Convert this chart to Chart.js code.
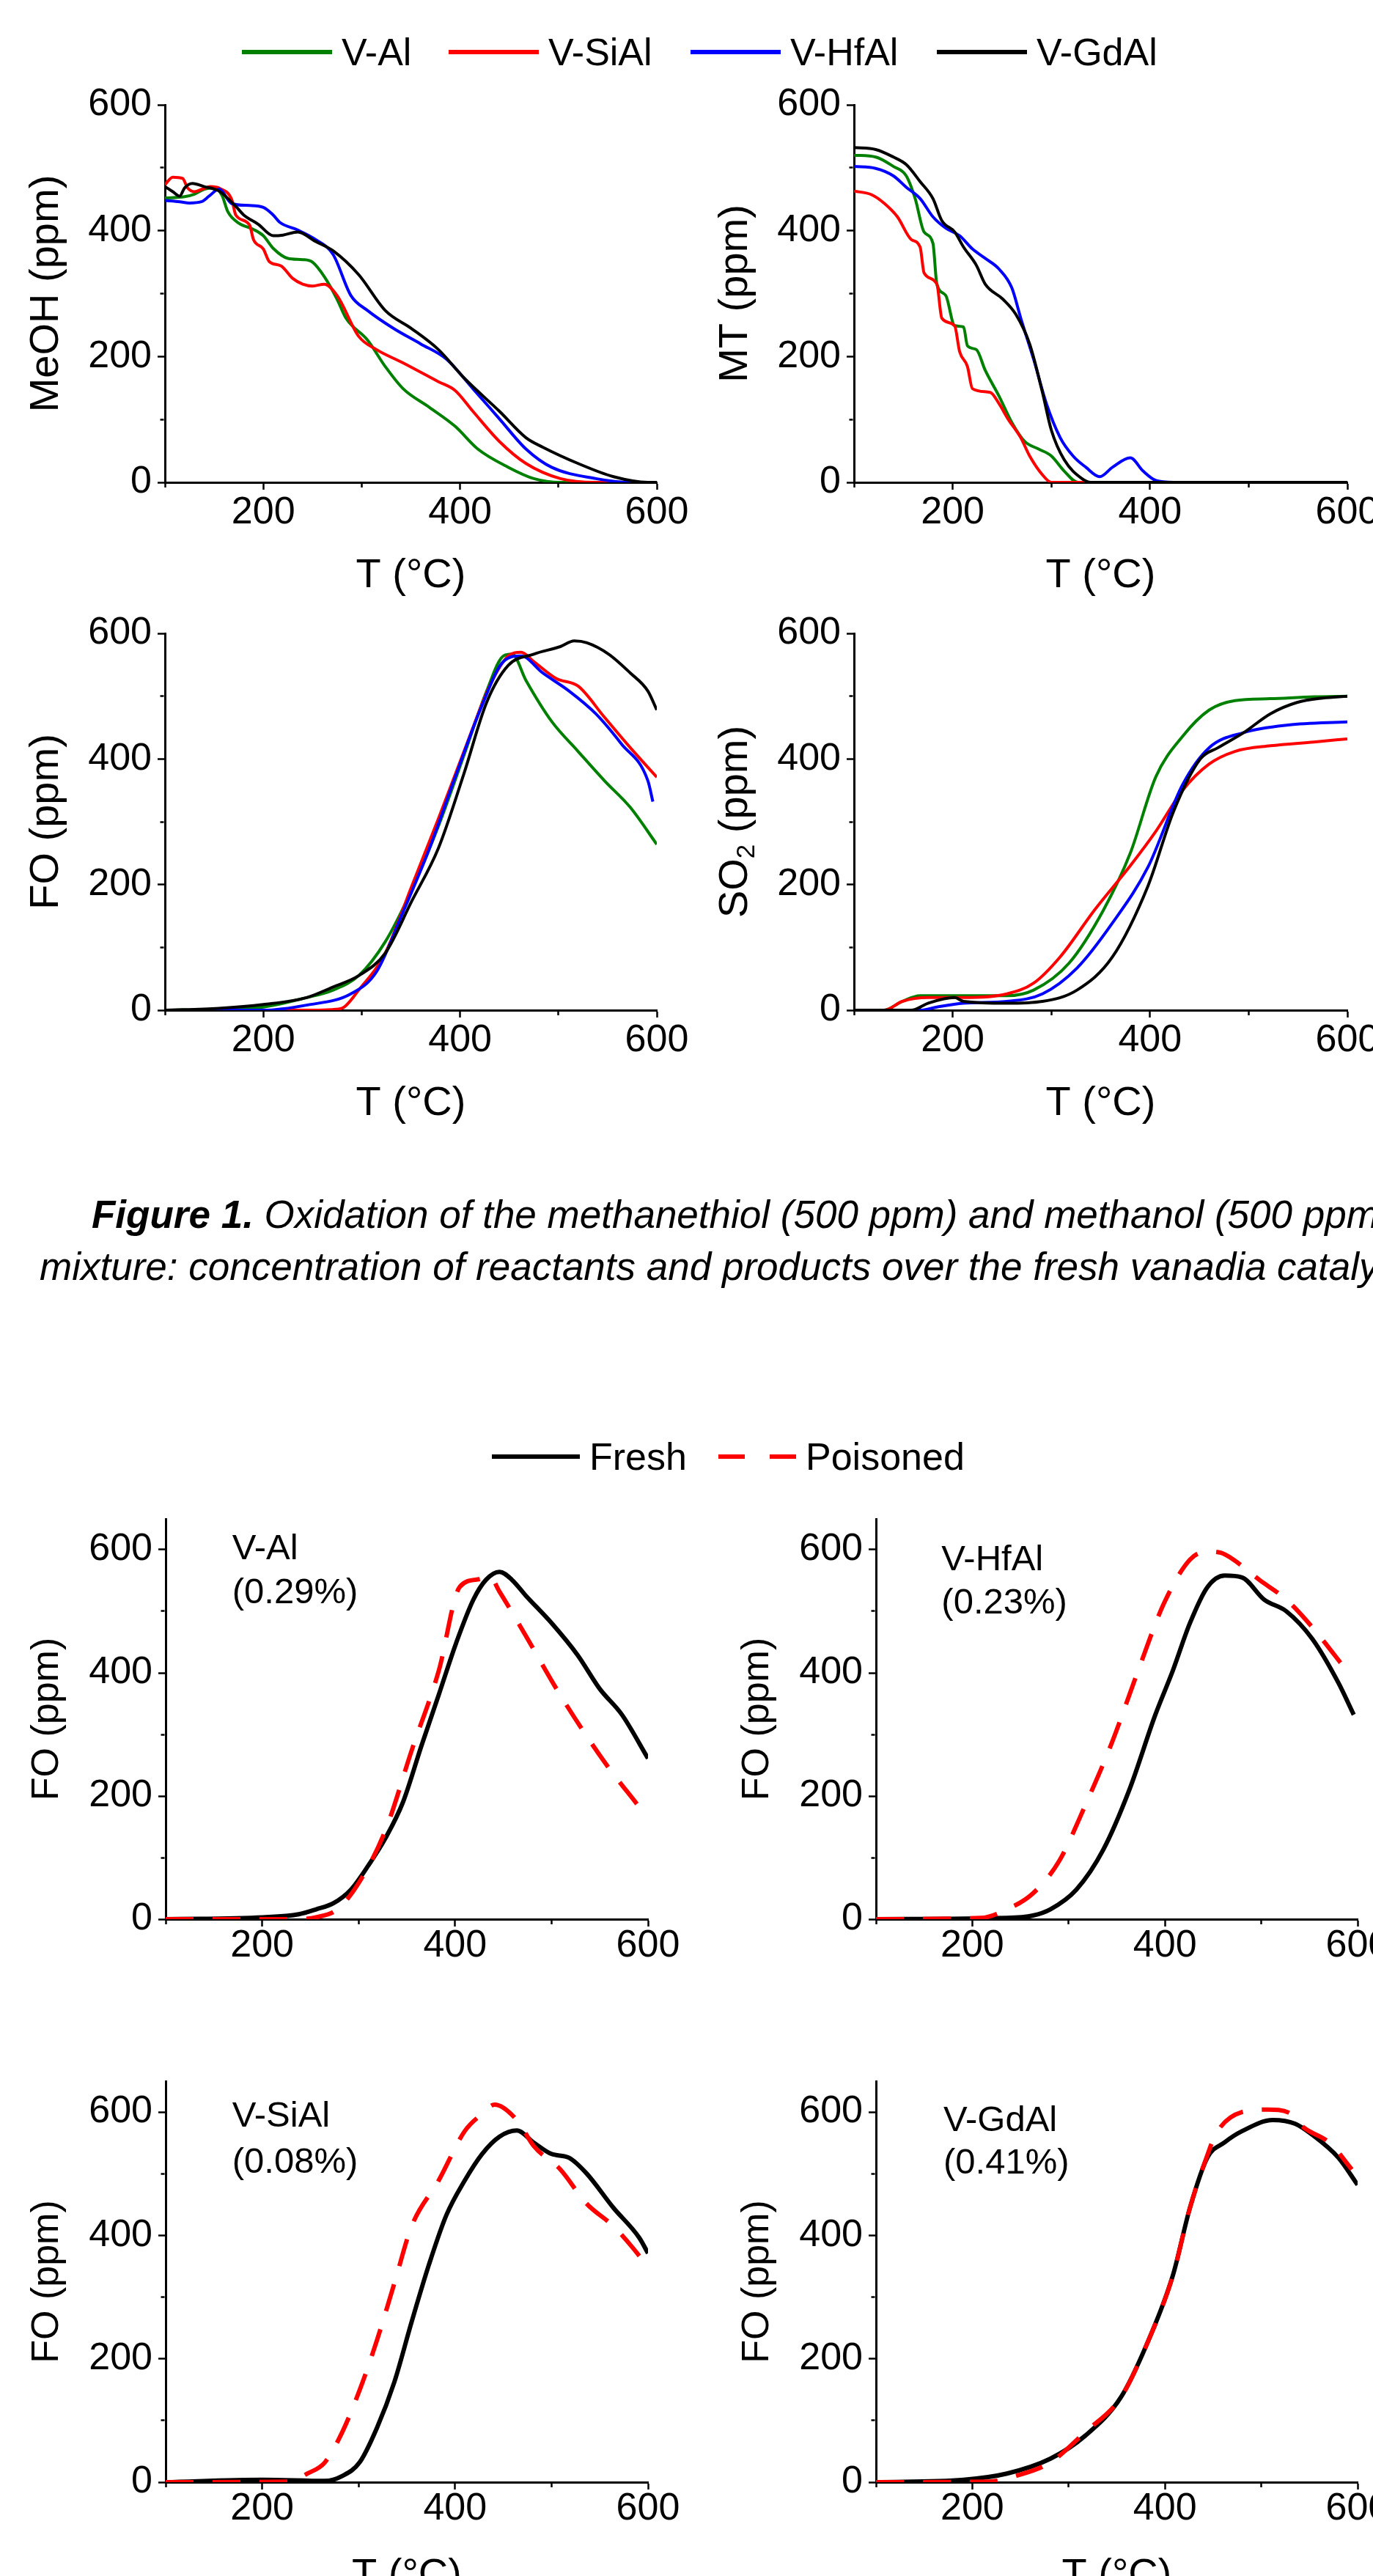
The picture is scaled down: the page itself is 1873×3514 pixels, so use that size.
<!DOCTYPE html>
<html lang="en">
<head>
<meta charset="UTF-8">
<title>Figure 1 – methanethiol / methanol oxidation</title>
<script src="https://cdn.jsdelivr.net/npm/chart.js"></script>
<style>
  html, body { margin: 0; padding: 0; overflow: hidden; background: #fff; }
  body {
    position: relative;
    width: 1873px;
    height: 3514px;
    font-family: 'Liberation Sans', Arial, sans-serif;
    color: #000;
  }
  .panel { position: absolute; }
  .leg-line { position: absolute; height: 6px; }
  .leg-text { position: absolute; font-size: 52px; line-height: 60px; white-space: nowrap; }
  .caption { position: absolute; font-size: 53px; line-height: 62px; font-style: italic; white-space: nowrap; }
</style>
</head>
<body>
<script>
  // ---- data: [T (°C), ppm] ----
  const catalysts = ['V-Al', 'V-SiAl', 'V-HfAl', 'V-GdAl'];
  const catColors = ['#008000', '#ff0000', '#0000ff', '#000000'];
  const xTickLabels = [200, 400, 600];
  const yTickLabels = [0, 200, 400, 600];

  // MeOH
  const meohAl = [[100,452],[120,454],[130,458],[140,466],[150,468],[158,456],[164,430],[175,412],[190,402],[200,392],[210,372],[225,356],[240,354],[250,350],[262,327],[275,291],[284,261],[306,226],[324,184],[342,149],[369,119],[395,89],[418,53],[449,24],[475,6],[502,0],[600,0]];
  const meohSiAl = [[100,473],[108,485],[118,483],[123,468],[130,462],[138,466],[146,470],[156,467],[168,449],[172,425],[186,409],[190,386],[200,371],[206,351],[218,344],[230,324],[240,315],[250,312],[262,315],[275,297],[297,232],[315,211],[342,190],[378,160],[395,146],[413,113],[440,65],[467,30],[502,6],[538,0],[600,0]];
  const meohHfAl = [[100,448],[115,446],[125,444],[137,446],[145,455],[155,466],[168,443],[186,440],[200,437],[210,425],[217,413],[235,401],[253,386],[271,362],[289,297],[306,273],[333,244],[360,220],[386,196],[413,149],[440,101],[467,53],[493,24],[538,6],[573,0],[600,0]];
  const meohGdAl = [[100,470],[108,462],[115,455],[120,468],[128,475],[140,470],[155,463],[173,437],[180,425],[195,410],[210,392],[220,393],[235,398],[253,383],[271,368],[297,330],[324,273],[351,244],[378,211],[404,166],[440,113],[467,71],[484,56],[520,30],[556,9],[591,0],[600,0]];

  // MT
  const mtAl = [[100,520],[122,517],[140,502],[153,487],[162,451],[171,398],[180,380],[184,315],[193,297],[202,249],[211,247],[215,217],[224,211],[233,178],[247,137],[260,95],[273,65],[287,53],[300,42],[313,18],[327,0],[600,0]];
  const mtSiAl = [[100,463],[118,457],[131,443],[144,422],[158,386],[167,374],[171,333],[184,315],[189,261],[202,249],[207,208],[215,184],[220,149],[238,143],[247,125],[256,101],[269,71],[278,42],[291,12],[300,0],[600,0]];
  const mtHfAl = [[100,502],[122,499],[140,487],[153,469],[167,451],[180,422],[193,404],[207,392],[220,371],[233,356],[247,339],[260,309],[269,261],[282,196],[295,125],[309,71],[322,42],[335,24],[349,9],[362,24],[380,39],[393,18],[406,3],[424,0],[600,0]];
  const mtGdAl = [[100,532],[122,529],[140,517],[153,505],[167,478],[180,451],[189,416],[202,398],[211,374],[224,345],[233,315],[251,291],[264,267],[278,220],[291,143],[300,83],[313,36],[331,6],[340,0],[600,0]];

  // FO (fresh catalysts)
  const foAl = [[100,0],[150,1],[200,5],[244,20],[271,32],[297,55],[324,109],[351,192],[378,293],[404,406],[427,508],[444,564],[453,567],[467,525],[493,460],[520,412],[547,365],[573,323],[600,264]];
  const foSiAl = [[100,0],[244,0],[270,1],[280,3],[297,32],[324,91],[351,198],[378,305],[404,412],[431,519],[449,564],[462,570],[475,555],[498,528],[520,516],[547,466],[573,418],[600,371]];
  const foHfAl = [[100,0],[200,0],[244,8],[289,26],[315,61],[342,156],[369,258],[395,371],[422,484],[444,555],[462,564],[484,537],[511,508],[538,472],[564,424],[591,365],[596,332]];
  const foGdAl = [[100,0],[155,3],[200,9],[244,20],[271,37],[297,55],[324,91],[351,174],[378,258],[404,377],[427,490],[449,549],[475,567],[502,579],[516,588],[529,585],[551,567],[573,537],[591,508],[600,478]];

  // SO2
  const so2Al = [[100,0],[130,0],[149,14],[167,23],[211,23],[255,23],[282,32],[318,75],[353,160],[380,250],[406,372],[433,436],[460,478],[486,493],[522,496],[566,499],[600,500]];
  const so2SiAl = [[100,0],[131,0],[149,14],[175,20],[211,20],[255,26],[282,43],[309,85],[344,160],[380,230],[406,285],[433,350],[460,392],[486,412],[522,421],[566,427],[600,432]];
  const so2HfAl = [[100,0],[167,0],[184,5],[211,11],[255,14],[291,26],[326,67],[362,139],[398,228],[433,359],[460,418],[495,442],[540,454],[600,459]];
  const so2GdAl = [[100,0],[158,0],[175,11],[202,20],[211,14],[255,11],[291,14],[326,32],[362,85],[398,198],[424,317],[451,400],[469,418],[495,442],[522,472],[549,490],[575,497],[600,500]];

  // FO fresh vs poisoned
  const freshAl = [[100,0],[201,3],[238,8],[256,16],[274,26],[292,48],[310,87],[328,132],[346,190],[365,281],[383,364],[401,448],[419,519],[432,551],[446,564],[459,551],[473,526],[500,481],[527,429],[550,374],[573,332],[600,261]];
  const poisAl = [[100,0],[238,0],[256,3],[278,16],[301,61],[328,145],[355,274],[383,403],[405,540],[425,552],[436,556],[446,532],[473,461],[509,364],[555,255],[590,184]];
  const freshHfAl = [[100,0],[236,2],[263,6],[281,16],[308,48],[336,113],[363,210],[390,332],[408,403],[426,481],[444,539],[462,558],[480,555],[503,519],[526,500],[553,455],[580,384],[596,332]];
  const poisHfAl = [[100,0],[209,2],[236,16],[263,42],[290,94],[317,184],[345,287],[372,403],[399,513],[426,584],[444,597],[458,595],[471,584],[498,551],[526,519],[553,474],[589,403]];
  const freshSiAl = [[100,0],[201,4],[265,2],[283,10],[301,32],[319,88],[337,162],[355,260],[373,353],[391,433],[410,489],[428,532],[446,560],[464,570],[482,550],[500,532],[518,526],[536,501],[564,445],[591,396],[600,371]];
  const poisSiAl = [[100,0],[229,1],[247,14],[265,32],[283,81],[301,149],[319,230],[337,322],[355,415],[383,489],[410,569],[428,597],[441,612],[464,587],[482,544],[509,507],[536,452],[564,415],[582,384],[595,359]];
  const freshGdAl = [[100,0],[191,4],[236,14],[281,38],[317,75],[354,137],[381,223],[408,334],[426,445],[444,526],[462,551],[480,569],[512,587],[535,581],[553,563],[580,526],[600,482]];
  const poisGdAl = [[100,0],[218,1],[245,10],[281,32],[317,81],[354,137],[381,223],[408,334],[426,445],[444,530],[453,565],[480,600],[507,604],[530,598],[544,575],[571,550],[594,507]];

  const poisonLoss = ['(0.29%)', '(0.23%)', '(0.08%)', '(0.41%)'];
  const compareLabels = ['Fresh', 'Poisoned'];

  // ---- drawing ----
  const FONT = "'Liberation Sans', Arial, sans-serif";
  Chart.defaults.font.family = FONT;
  Chart.defaults.color = '#000';

  // axis titles and in-plot notes
  const axisTitles = {
    id: 'axisTitles',
    afterDraw(chart, args, o) {
      const { ctx, chartArea: a } = chart;
      ctx.save();
      ctx.fillStyle = '#000';
      // y title, rotated, parts allow a subscript
      ctx.save();
      ctx.translate(a.left - 161, (a.top + a.bottom) / 2);
      ctx.rotate(-Math.PI / 2);
      ctx.textBaseline = 'middle';
      ctx.textAlign = 'left';
      const big = `${o.ySize}px ${FONT}`, small = `${Math.round(o.ySize * 0.62)}px ${FONT}`;
      let total = 0;
      o.yParts.forEach(pt => { ctx.font = pt[1] ? small : big; total += ctx.measureText(pt[0]).width; });
      let x = -total / 2;
      o.yParts.forEach(pt => {
        ctx.font = pt[1] ? small : big;
        ctx.fillText(pt[0], x, pt[1] ? o.ySize * 0.28 : 0);
        x += ctx.measureText(pt[0]).width;
      });
      ctx.restore();
      // x title
      if (o.xTitle) {
        ctx.font = `56px ${FONT}`;
        ctx.textAlign = 'center';
        ctx.textBaseline = 'middle';
        ctx.fillText(o.xTitle, (a.left + a.right) / 2, a.bottom + 128);
      }
      // notes anchored in data space
      if (o.notes) {
        const xs = chart.scales.x, ys = chart.scales.y;
        ctx.font = `49px ${FONT}`;
        ctx.textAlign = 'left';
        ctx.textBaseline = 'alphabetic';
        o.notes.forEach(n => ctx.fillText(n.text, xs.getPixelForValue(n.x), ys.getPixelForValue(n.y)));
      }
      ctx.restore();
    }
  };

  function makePanel(p) {
    const [l, t, r, b] = p.area;
    const W = r - l + 260, H = b - t + 230;
    const div = document.createElement('div');
    div.className = 'panel';
    div.style.left = (l - 200) + 'px';
    div.style.top = (t - 60) + 'px';
    const cv = document.createElement('canvas');
    cv.width = W; cv.height = H;
    cv.style.width = W + 'px'; cv.style.height = H + 'px';
    div.appendChild(cv);
    document.body.appendChild(div);

    const isMajorX = v => xTickLabels.includes(Math.round(v));
    const isMajorY = v => yTickLabels.includes(Math.round(v));

    new Chart(cv, {
      type: 'line',
      data: {
        datasets: p.series.map(s => ({
          label: s.label,
          data: s.data,
          borderColor: s.color,
          borderWidth: p.lw,
          borderDash: s.dash || [],
          pointRadius: 0,
          fill: false,
          cubicInterpolationMode: 'monotone',
          order: s.order
        }))
      },
      options: {
        responsive: false,
        devicePixelRatio: 1,
        animation: false,
        events: [],
        layout: { padding: { left: 0, top: 60, right: 60, bottom: 0 } },
        plugins: {
          legend: { display: false },
          tooltip: { enabled: false },
          axisTitles: { yParts: p.yParts, ySize: p.ySize, xTitle: p.xTitle, notes: p.notes }
        },
        scales: {
          x: {
            type: 'linear', min: 100, max: 600,
            afterFit: s => { s.height = 170; },
            afterBuildTicks: s => { s.ticks = [100, 200, 300, 400, 500, 600].map(v => ({ value: v })); },
            border: { display: true, color: '#000', width: 3 },
            grid: {
              drawOnChartArea: false, drawTicks: true, tickLength: 10, tickWidth: 2.5, tickColor: '#000',
              tickBorderDash: c => (c.tick && !isMajorX(c.tick.value)) ? [5, 100] : []
            },
            ticks: {
              autoSkip: false, maxRotation: 0, padding: p.xpad,
              font: { size: 52 }, color: '#000',
              callback: v => isMajorX(v) ? Math.round(v) : ''
            }
          },
          y: {
            type: 'linear', min: 0, max: p.ymax,
            afterFit: s => { s.width = 200; },
            afterBuildTicks: s => { s.ticks = [0, 100, 200, 300, 400, 500, 600].map(v => ({ value: v })); },
            border: { display: true, color: '#000', width: 3 },
            grid: {
              drawOnChartArea: false, drawTicks: true, tickLength: 10, tickWidth: 2.5, tickColor: '#000',
              tickBorderDash: c => (c.tick && !isMajorY(c.tick.value)) ? [0, 3.5, 5, 100] : []
            },
            ticks: {
              autoSkip: false, padding: 8,
              font: { size: 52 }, color: '#000',
              callback: v => isMajorY(v) ? Math.round(v) : ''
            }
          }
        }
      },
      plugins: [axisTitles]
    });
  }

  const four = arrs => arrs.map((d, i) => ({ label: catalysts[i], data: d, color: catColors[i], order: 3 - i }));
  const pair = (fresh, pois) => [
    { label: compareLabels[0], data: fresh, color: '#000', order: 1 },
    { label: compareLabels[1], data: pois, color: '#ff0000', dash: [38, 26], order: 0 }
  ];
  const note = (i, name, x, y1, y2) => [{ text: name, x: x, y: y1 }, { text: poisonLoss[i], x: x, y: y2 }];

  const panels = [
    { area: [225, 143, 896, 658], ymax: 600, lw: 4, xpad: 0, ySize: 56, yParts: [['MeOH (ppm)']], xTitle: 'T (°C)',
      series: four([meohAl, meohSiAl, meohHfAl, meohGdAl]) },
    { area: [1165, 143, 1838, 658], ymax: 600, lw: 4, xpad: 0, ySize: 56, yParts: [['MT (ppm)']], xTitle: 'T (°C)',
      series: four([mtAl, mtSiAl, mtHfAl, mtGdAl]) },
    { area: [225, 864, 896, 1378], ymax: 600, lw: 4, xpad: 0, ySize: 56, yParts: [['FO (ppm)']], xTitle: 'T (°C)',
      series: four([foAl, foSiAl, foHfAl, foGdAl]) },
    { area: [1165, 864, 1838, 1378], ymax: 600, lw: 4, xpad: 0, ySize: 56, yParts: [['SO'], ['2', true], [' (ppm)']], xTitle: 'T (°C)',
      series: four([so2Al, so2SiAl, so2HfAl, so2GdAl]) },
    { area: [226, 2072, 884, 2618], ymax: 650, lw: 6, xpad: -5, ySize: 52, yParts: [['FO (ppm)']],
      series: pair(freshAl, poisAl), notes: note(0, 'V-Al', 169, 584, 513) },
    { area: [1195, 2072, 1852, 2618], ymax: 650, lw: 6, xpad: -5, ySize: 52, yParts: [['FO (ppm)']],
      series: pair(freshHfAl, poisHfAl), notes: note(1, 'V-HfAl', 168, 567, 497) },
    { area: [226, 2839, 884, 3386], ymax: 650, lw: 6, xpad: -5, ySize: 52, yParts: [['FO (ppm)']], xTitle: 'T (°C)',
      series: pair(freshSiAl, poisSiAl), notes: note(2, 'V-SiAl', 169, 576, 501) },
    { area: [1195, 2839, 1852, 3386], ymax: 650, lw: 6, xpad: -5, ySize: 52, yParts: [['FO (ppm)']], xTitle: 'T (°C)',
      series: pair(freshGdAl, poisGdAl), notes: note(3, 'V-GdAl', 170, 569, 500) }
  ];
  panels.forEach(makePanel);

  // ---- legends ----
  function legendItem(x, yc, len, color, text, dashed) {
    const ln = document.createElement('div');
    ln.className = 'leg-line';
    ln.style.left = x + 'px';
    ln.style.top = (yc - 3) + 'px';
    ln.style.width = len + 'px';
    ln.style.background = dashed
      ? `repeating-linear-gradient(90deg, ${color} 0 36px, transparent 36px 70px)`
      : color;
    document.body.appendChild(ln);
    const tx = document.createElement('div');
    tx.className = 'leg-text';
    tx.style.left = (x + len + 13) + 'px';
    tx.style.top = (yc - 30) + 'px';
    tx.textContent = text;
    document.body.appendChild(tx);
  }
  [330, 612, 942, 1278].forEach((x, i) => legendItem(x, 71, 123, catColors[i], catalysts[i], false));
  legendItem(671, 1987, 120, '#000', compareLabels[0], false);
  legendItem(980, 1987, 106, '#ff0000', compareLabels[1], true);

  // ---- caption ----
  const cap1 = document.createElement('div');
  cap1.className = 'caption';
  cap1.style.left = '125px';
  cap1.style.top = '1626px';
  cap1.innerHTML = '<b>Figure 1.</b> Oxidation of the methanethiol (500 ppm) and methanol (500 ppm)';
  document.body.appendChild(cap1);
  const cap2 = document.createElement('div');
  cap2.className = 'caption';
  cap2.style.left = '54px';
  cap2.style.top = '1697px';
  cap2.textContent = 'mixture: concentration of reactants and products over the fresh vanadia catalysts.';
  document.body.appendChild(cap2);
</script>
</body>
</html>
